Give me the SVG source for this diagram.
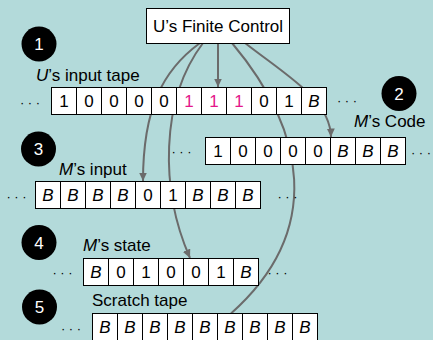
<svg xmlns="http://www.w3.org/2000/svg" width="433" height="340" viewBox="0 0 433 340">
  <defs>
    <marker id="head" markerUnits="userSpaceOnUse" markerWidth="9" markerHeight="8" refX="8.5" refY="4" orient="auto">
      <path d="M0,0 L8.5,4 L0,8 z" fill="#6b6b6b"/>
    </marker>
    <style>
      text { font-family: "Liberation Sans", Arial, sans-serif; font-size: 17px; fill: #000; }
      .cell { fill: #fff; stroke: #000; stroke-width: 1; }
      .c { text-anchor: middle; }
      .b { font-style: italic; }
      .hot { fill: #e4168a; }
      .dots { font-size: 13px; text-anchor: middle; }
      .badge circle { fill: #000; }
      .badge text { fill: #fff; text-anchor: middle; font-size: 17px; }
      .wire { fill: none; stroke: #6b6b6b; stroke-width: 2; }
      .box { fill: #fff; stroke: #000; stroke-width: 1; }
    </style>
  </defs>

  <rect width="433" height="340" fill="#b3dada"/>

  <!-- read/write heads from the finite control -->
  <g id="connectors">
    <path class="wire" d="M200,43 C163,70 143,108 143,181" marker-end="url(#head)"/>
    <path class="wire" d="M203,43 C160,100 160,190 190,258" marker-end="url(#head)"/>
    <path class="wire" d="M218,43 L218,87" marker-end="url(#head)"/>
    <path class="wire" d="M232,43 C305,130 325,230 231,313.5"/>
    <path class="wire" d="M245,43 C290,78 330,100 331,137" marker-end="url(#head)"/>
  </g>

  <g id="control">
    <rect class="box" x="146.5" y="8.5" width="143" height="35"/>
    <text class="c" x="218" y="32">U’s Finite Control</text>
  </g>

  <!-- tape 1 -->
  <g id="input-tape">
    <text x="36" y="81"><tspan class="b">U</tspan>’s input tape</text>
    <text class="dots" x="30" y="106.5">· · ·</text>
    <rect class="cell" x="51.5" y="87.5" width="25" height="27"/>
    <rect class="cell" x="76.5" y="87.5" width="25" height="27"/>
    <rect class="cell" x="101.5" y="87.5" width="25" height="27"/>
    <rect class="cell" x="126.5" y="87.5" width="25" height="27"/>
    <rect class="cell" x="151.5" y="87.5" width="25" height="27"/>
    <rect class="cell" x="176.5" y="87.5" width="25" height="27"/>
    <rect class="cell" x="201.5" y="87.5" width="25" height="27"/>
    <rect class="cell" x="226.5" y="87.5" width="25" height="27"/>
    <rect class="cell" x="251.5" y="87.5" width="25" height="27"/>
    <rect class="cell" x="276.5" y="87.5" width="25" height="27"/>
    <rect class="cell" x="301.5" y="87.5" width="25" height="27"/>
    <text class="c" x="64" y="107">1</text>
    <text class="c" x="89" y="107">0</text>
    <text class="c" x="114" y="107">0</text>
    <text class="c" x="139" y="107">0</text>
    <text class="c" x="164" y="107">0</text>
    <text class="c hot" x="189" y="107">1</text>
    <text class="c hot" x="214" y="107">1</text>
    <text class="c hot" x="239" y="107">1</text>
    <text class="c" x="264" y="107">0</text>
    <text class="c" x="289" y="107">1</text>
    <text class="c b" x="314" y="107">B</text>
    <text class="dots" x="347" y="105">· · ·</text>
  </g>

  <!-- tape 2 -->
  <g id="code-tape">
    <text x="354" y="127"><tspan class="b">M</tspan>’s Code</text>
    <text class="dots" x="181.5" y="155.5">· · ·</text>
    <rect class="cell" x="205.5" y="137.5" width="25" height="27"/>
    <rect class="cell" x="230.5" y="137.5" width="25" height="27"/>
    <rect class="cell" x="255.5" y="137.5" width="25" height="27"/>
    <rect class="cell" x="280.5" y="137.5" width="25" height="27"/>
    <rect class="cell" x="305.5" y="137.5" width="25" height="27"/>
    <rect class="cell" x="330.5" y="137.5" width="25" height="27"/>
    <rect class="cell" x="355.5" y="137.5" width="25" height="27"/>
    <rect class="cell" x="380.5" y="137.5" width="25" height="27"/>
    <text class="c" x="218" y="157">1</text>
    <text class="c" x="243" y="157">0</text>
    <text class="c" x="268" y="157">0</text>
    <text class="c" x="293" y="157">0</text>
    <text class="c" x="318" y="157">0</text>
    <text class="c b" x="343" y="157">B</text>
    <text class="c b" x="368" y="157">B</text>
    <text class="c b" x="393" y="157">B</text>
    <text class="dots" x="421" y="156.5">· · ·</text>
  </g>

  <!-- tape 3 -->
  <g id="m-input-tape">
    <text x="59" y="175"><tspan class="b">M</tspan>’s input</text>
    <text class="dots" x="16.5" y="200.5">· · ·</text>
    <rect class="cell" x="35.5" y="181.5" width="25" height="27"/>
    <rect class="cell" x="60.5" y="181.5" width="25" height="27"/>
    <rect class="cell" x="85.5" y="181.5" width="25" height="27"/>
    <rect class="cell" x="110.5" y="181.5" width="25" height="27"/>
    <rect class="cell" x="135.5" y="181.5" width="25" height="27"/>
    <rect class="cell" x="160.5" y="181.5" width="25" height="27"/>
    <rect class="cell" x="185.5" y="181.5" width="25" height="27"/>
    <rect class="cell" x="210.5" y="181.5" width="25" height="27"/>
    <rect class="cell" x="235.5" y="181.5" width="25" height="27"/>
    <text class="c b" x="48" y="201">B</text>
    <text class="c b" x="73" y="201">B</text>
    <text class="c b" x="98" y="201">B</text>
    <text class="c b" x="123" y="201">B</text>
    <text class="c" x="148" y="201">0</text>
    <text class="c" x="173" y="201">1</text>
    <text class="c b" x="198" y="201">B</text>
    <text class="c b" x="223" y="201">B</text>
    <text class="c b" x="248" y="201">B</text>
    <text class="dots" x="287.5" y="200.5">· · ·</text>
  </g>

  <!-- tape 4 -->
  <g id="state-tape">
    <text x="83" y="251"><tspan class="b">M</tspan>’s state</text>
    <text class="dots" x="62.5" y="277">· · ·</text>
    <rect class="cell" x="83.5" y="258.5" width="25" height="27"/>
    <rect class="cell" x="108.5" y="258.5" width="25" height="27"/>
    <rect class="cell" x="133.5" y="258.5" width="25" height="27"/>
    <rect class="cell" x="158.5" y="258.5" width="25" height="27"/>
    <rect class="cell" x="183.5" y="258.5" width="25" height="27"/>
    <rect class="cell" x="208.5" y="258.5" width="25" height="27"/>
    <rect class="cell" x="233.5" y="258.5" width="25" height="27"/>
    <text class="c b" x="96" y="278">B</text>
    <text class="c" x="121" y="278">0</text>
    <text class="c" x="146" y="278">1</text>
    <text class="c" x="171" y="278">0</text>
    <text class="c" x="196" y="278">0</text>
    <text class="c" x="221" y="278">1</text>
    <text class="c b" x="246" y="278">B</text>
    <text class="dots" x="277.5" y="277">· · ·</text>
  </g>

  <!-- tape 5 -->
  <g id="scratch-tape">
    <text x="92" y="306">Scratch tape</text>
    <text class="dots" x="71" y="332.5">· · ·</text>
    <rect class="cell" x="92.5" y="313.5" width="25" height="27"/>
    <rect class="cell" x="117.5" y="313.5" width="25" height="27"/>
    <rect class="cell" x="142.5" y="313.5" width="25" height="27"/>
    <rect class="cell" x="167.5" y="313.5" width="25" height="27"/>
    <rect class="cell" x="192.5" y="313.5" width="25" height="27"/>
    <rect class="cell" x="217.5" y="313.5" width="25" height="27"/>
    <rect class="cell" x="242.5" y="313.5" width="25" height="27"/>
    <rect class="cell" x="267.5" y="313.5" width="25" height="27"/>
    <rect class="cell" x="292.5" y="313.5" width="25" height="27"/>
    <text class="c b" x="105" y="333">B</text>
    <text class="c b" x="130" y="333">B</text>
    <text class="c b" x="155" y="333">B</text>
    <text class="c b" x="180" y="333">B</text>
    <text class="c b" x="205" y="333">B</text>
    <text class="c b" x="230" y="333">B</text>
    <text class="c b" x="255" y="333">B</text>
    <text class="c b" x="280" y="333">B</text>
    <text class="c b" x="305" y="333">B</text>
  </g>

  <!-- numbered badges -->
  <g id="badge-1" class="badge"><circle cx="39" cy="44" r="17.5"/><text x="39" y="50">1</text></g>
  <g id="badge-2" class="badge"><circle cx="399" cy="93.5" r="17.5"/><text x="399" y="99.5">2</text></g>
  <g id="badge-3" class="badge"><circle cx="38.5" cy="149" r="17.5"/><text x="38.5" y="155">3</text></g>
  <g id="badge-4" class="badge"><circle cx="39" cy="242.5" r="17.5"/><text x="39" y="248.5">4</text></g>
  <g id="badge-5" class="badge"><circle cx="39.5" cy="307" r="17.5"/><text x="39.5" y="313">5</text></g>
</svg>
